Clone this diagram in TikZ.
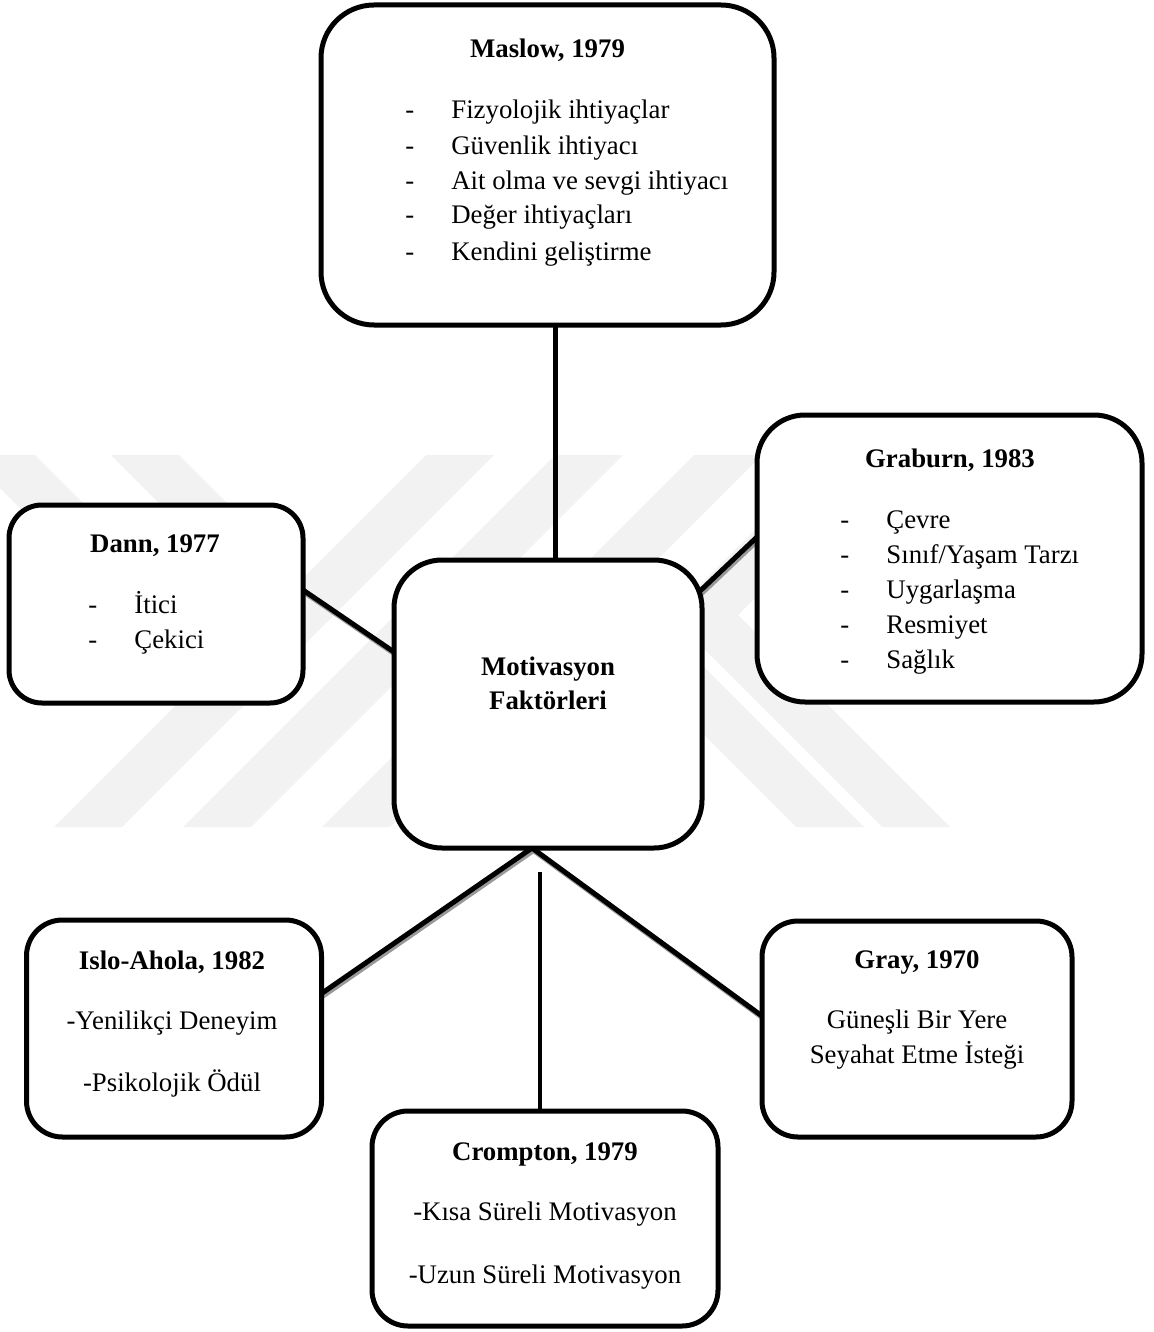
\documentclass[tikz,border=0pt]{standalone}
\usepackage{fontspec}
\setmainfont{Liberation Serif}
\pgfdeclarelayer{bg}
\pgfsetlayers{bg,main}
\begin{document}
\begin{tikzpicture}[x=0.5pt, y=-0.5pt,
  wm/.style={fill=black!5},
  box/.style n args={3}{draw=black, line width=2.5pt, fill=white,
    rounded corners=#1, minimum width=#2, minimum height=#3,
    inner sep=0pt, outer sep=0pt},
  link/.style={draw=black, line width=2.5pt},
  shadowed/.style={preaction={draw=black!40, line width=2.5pt,
    transform canvas={shift={(0.75pt,-1.25pt)}}}},
  tx/.style={inner sep=0pt, font=\fontsize{13.4pt}{17.6pt}\selectfont},
  ttl/.style={tx, font=\fontsize{13.4pt}{17.6pt}\selectfont\bfseries, anchor=base},
  ctr/.style={tx, anchor=base},
  itm/.style={tx, anchor=base west}]
\useasboundingbox (0,0) rectangle (1153,1332);

% boxes
\node[box={26.5pt}{226.5pt}{160pt}] (maslow) at (547.5,165) {};
\node[box={24pt}{154pt}{144pt}] (center) at (548,704) {};
\node[box={16.5pt}{147pt}{99pt}] (dann) at (156,604) {};
\node[box={24pt}{192.5pt}{143.5pt}] (graburn) at (949.5,558.5) {};
\node[box={18pt}{147.5pt}{108.5pt}] (islo) at (174,1028.5) {};
\node[box={18pt}{155pt}{108pt}] (gray) at (917,1029) {};
\node[box={18pt}{173pt}{107.5pt}] (crompton) at (545,1218.5) {};

\begin{pgfonlayer}{bg}
  % faint chevron pattern behind the diagram
  \fill[wm] (426,455) -- (494,455) -- (122,827) -- (54,827) -- cycle;
  \fill[wm] (555,455) -- (623,455) -- (251,827) -- (183,827) -- cycle;
  \fill[wm] (694,455) -- (762,455) -- (390,827) -- (322,827) -- cycle;
  \fill[wm] (830,455) -- (898,455) -- (526,827) -- (458,827) -- cycle;
  \fill[wm] (-33,455) -- (35,455) -- (264.5,684.5) -- (196.5,684.5) -- cycle;
  \fill[wm] (111,455) -- (179,455) -- (336.5,612.5) -- (268.5,612.5) -- cycle;
  \fill[wm] (796,827) -- (864,827) -- (695,658) -- (627,658) -- cycle;
  \fill[wm] (882,827) -- (950,827) -- (738,615) -- (670,615) -- cycle;

  % connectors
  \draw[link] ([xshift=3.75pt]maslow.south) -- ([xshift=3.5pt]center.north);
  \draw[link, shadowed] ([yshift=7pt]dann.east) -- ([yshift=26pt]center.west);
  \draw[link, shadowed] ([yshift=10.75pt]graburn.west) -- ([xshift=-1.5pt,yshift=56pt]center.east);
  \draw[link, shadowed] ([xshift=-8pt]center.south) -- ([yshift=17.5pt]islo.east);
  \draw[link, shadowed] ([xshift=-8pt]center.south) -- ([yshift=6.5pt]gray.west);
  \coordinate (cstub) at (540,872);
  \draw[link, line width=2pt] (cstub) -- (cstub |- crompton.north);
\end{pgfonlayer}

% Maslow
\node[ttl] (maslow-t) at (547.5,58) {Maslow, 1979};
\node[itm] (maslow-1) at (405,119) {\makebox[23pt][l]{-}Fizyolojik ihtiyaçlar};
\node[itm] (maslow-2) at (405,155) {\makebox[23pt][l]{-}Güvenlik ihtiyacı};
\node[itm] (maslow-3) at (405,190) {\makebox[23pt][l]{-}Ait olma ve sevgi ihtiyacı};
\node[itm] (maslow-4) at (405,224) {\makebox[23pt][l]{-}Değer ihtiyaçları};
\node[itm] (maslow-5) at (405,260) {\makebox[23pt][l]{-}Kendini geliştirme};

% centre
\node[ttl] (center-1) at (548,675) {Motivasyon};
\node[ttl] (center-2) at (548,709) {Faktörleri};

% Dann
\node[ttl] (dann-t) at (155,552) {Dann, 1977};
\node[itm] (dann-1) at (88,613) {\makebox[23pt][l]{-}İtici};
\node[itm] (dann-2) at (88,648) {\makebox[23pt][l]{-}Çekici};

% Graburn
\node[ttl] (graburn-t) at (950,467) {Graburn, 1983};
\node[itm] (graburn-1) at (840,528) {\makebox[23pt][l]{-}Çevre};
\node[itm] (graburn-2) at (840,563) {\makebox[23pt][l]{-}Sınıf/Yaşam Tarzı};
\node[itm] (graburn-3) at (840,598) {\makebox[23pt][l]{-}Uygarlaşma};
\node[itm] (graburn-4) at (840,633) {\makebox[23pt][l]{-}Resmiyet};
\node[itm] (graburn-5) at (840,668) {\makebox[23pt][l]{-}Sağlık};

% Islo-Ahola
\node[ttl] (islo-t) at (172,969) {Islo-Ahola, 1982};
\node[ctr] (islo-1) at (172,1029) {-Yenilikçi Deneyim};
\node[ctr] (islo-2) at (172,1091) {-Psikolojik Ödül};

% Gray
\node[ttl] (gray-t) at (917,968) {Gray, 1970};
\node[ctr] (gray-1) at (917,1028) {Güneşli Bir Yere};
\node[ctr] (gray-2) at (917,1063) {Seyahat Etme İsteği};

% Crompton
\node[ttl] (crompton-t) at (545,1160) {Crompton, 1979};
\node[ctr] (crompton-1) at (545,1220) {-Kısa Süreli Motivasyon};
\node[ctr] (crompton-2) at (545,1283) {-Uzun Süreli Motivasyon};
\end{tikzpicture}
\end{document}
